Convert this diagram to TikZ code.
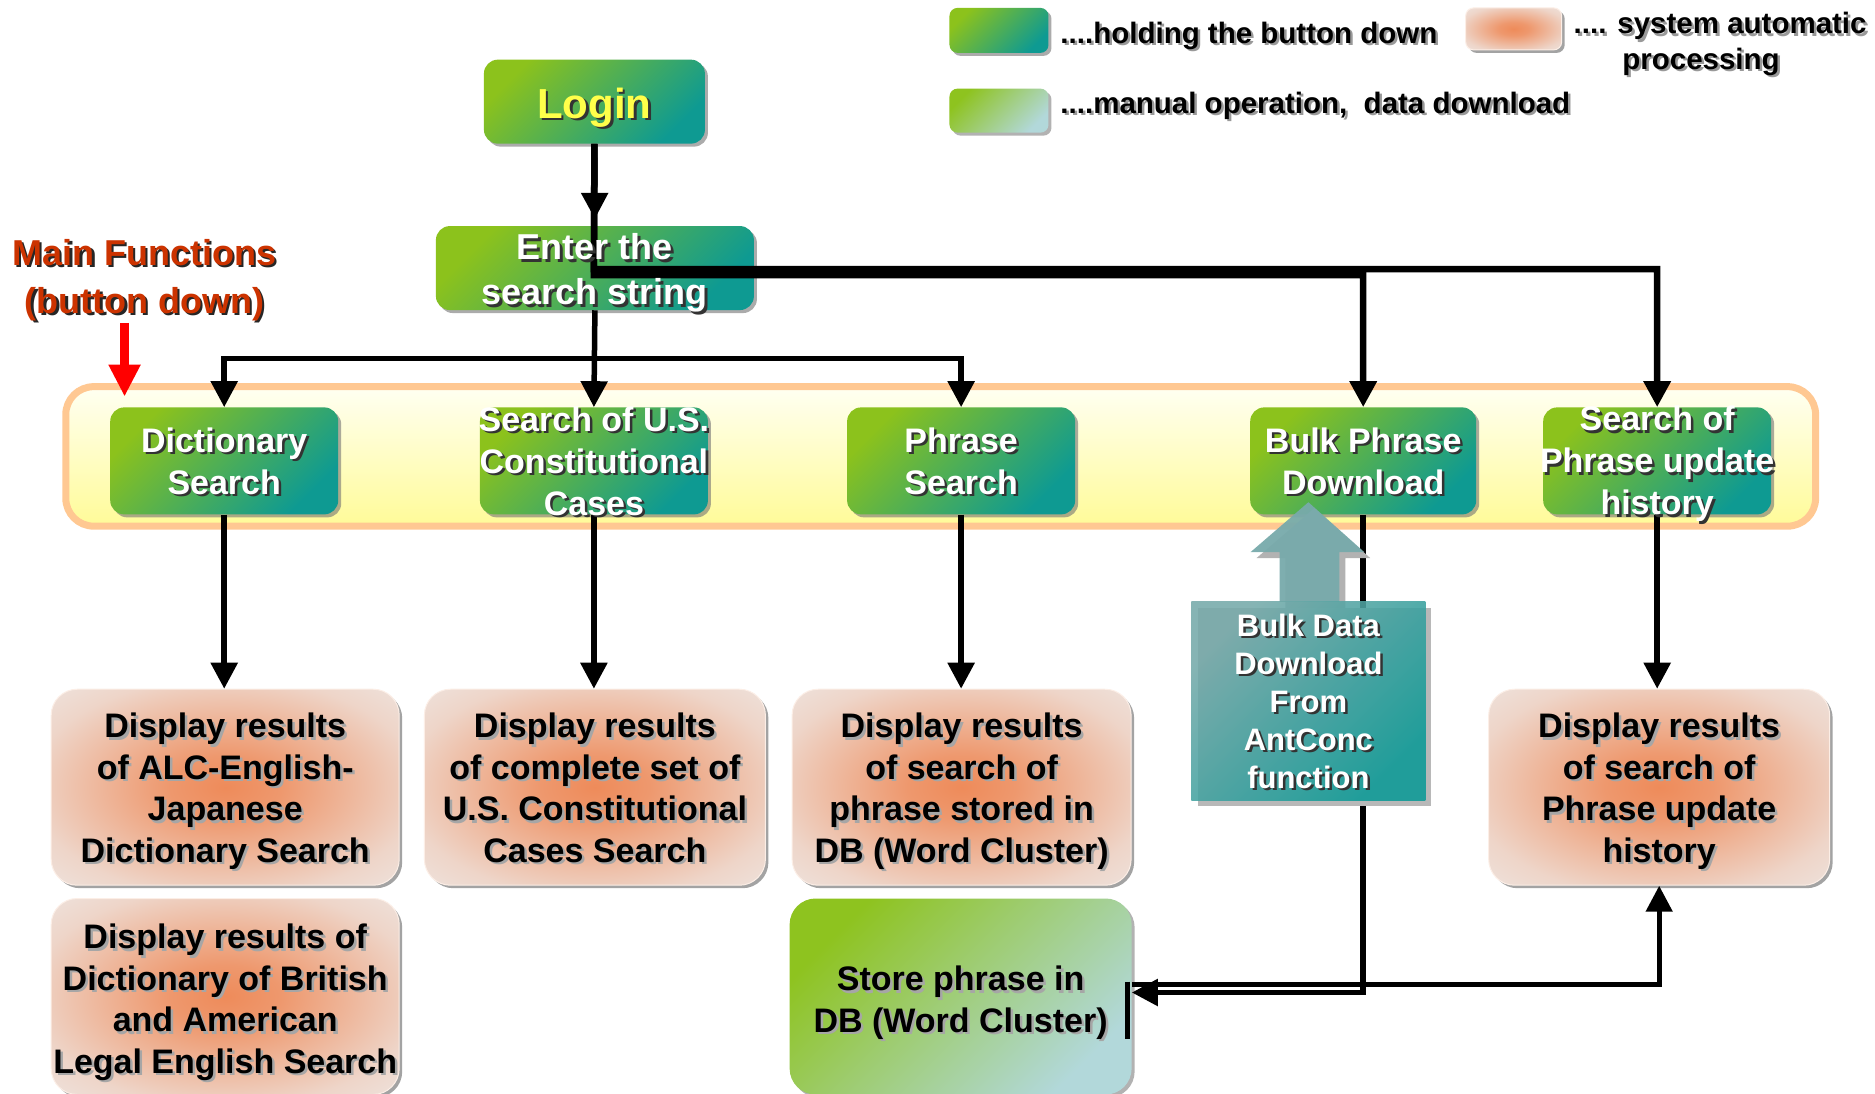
\documentclass[tikz,border=0pt]{standalone}
\usepackage{fontspec}
\setmainfont{Liberation Sans}
\usetikzlibrary{shadows,arrows.meta}
\definecolor{gA}{HTML}{8CC21C}
\definecolor{gB}{HTML}{0E9A92}
\definecolor{oC}{HTML}{EE8B5A}
\definecolor{oE}{HTML}{EEE2DC}
\definecolor{lgA}{HTML}{8EC31F}
\definecolor{lgB}{HTML}{B2D8DA}
\definecolor{tA}{HTML}{76AAAA}
\definecolor{tB}{HTML}{0B9A96}
\definecolor{tArrow}{HTML}{78AAAB}
\definecolor{bandTop}{HTML}{FFFFF2}
\definecolor{bandBot}{HTML}{FFFB98}
\definecolor{bandO}{HTML}{FFC892}
\definecolor{mfred}{HTML}{CC3300}
\definecolor{loginY}{HTML}{FFFF4A}
\pgfdeclareradialshading{glow}{\pgfpoint{0bp}{0bp}}{color(0bp)=(oC); color(8bp)=(oC!85!oE); color(18bp)=(oC!50!oE); color(28bp)=(oC!15!oE); color(36bp)=(oE); color(50bp)=(oE)}
\newcommand\fbtn{\bfseries\fontsize{34}{42}\selectfont}
\newcommand\fres{\bfseries\fontsize{34}{41.5}\selectfont}
\newcommand\fenter{\bfseries\fontsize{36}{45}\selectfont}
\newcommand\flogin{\bfseries\fontsize{42}{50}\selectfont}
\newcommand\fmf{\bfseries\fontsize{36}{48}\selectfont}
\newcommand\fbulk{\bfseries\fontsize{31}{38}\selectfont}
\newcommand\fleg{\bfseries\fontsize{29.5}{36}\selectfont}
% shadowed text: [opts]{name}{pos}{font}{colour}{shadow colour}{text}
\newcommand\shtxt[7][]{%
  \node[#1, font=#4, text=#6, align=center, inner sep=0pt] (#2s) at ([shift={(2.5pt,-2.5pt)}]#3) {#7};
  \node[#1, font=#4, text=#5, align=center, inner sep=0pt] (#2t) at (#3) {#7};}
\begin{document}
\begin{tikzpicture}[x=0.9965pt,y=-0.9965pt,
  gbox/.style={rounded corners=14pt, top color=gA, bottom color=gB, shading angle=45,
    drop shadow={shadow xshift=3pt,shadow yshift=-3pt,fill=black!55,opacity=0.6}, inner sep=0pt},
  resbox/.style={rounded corners=26pt, shading=glow, draw=white!85!oC, line width=1pt,
    drop shadow={shadow xshift=3pt,shadow yshift=-3pt,fill=black!55,opacity=0.65}, inner sep=0pt},
  manbox/.style={rounded corners=26pt, top color=lgA, bottom color=lgB, shading angle=45,
    drop shadow={shadow xshift=3pt,shadow yshift=-3pt,fill=black!50,opacity=0.6}, inner sep=0pt},
  conn/.style={line width=5.5pt, -{Triangle[width=26pt,length=26pt]}},
  plainline/.style={line width=5.5pt}
]
\useasboundingbox (0,0) rectangle (1881.6,1097.8);
\fill[white] (0,0) rectangle (1881.6,1097.8);

% band of main functions
\draw[top color=bandTop, bottom color=bandBot, draw=bandO, line width=7pt, rounded corners=28pt]
  (66,388) rectangle (1822,528);

% legend
\node[gbox, rounded corners=8pt, minimum width=99pt, minimum height=45pt] (lg1) at (1002.5,30.5) {};
\node[resbox, rounded corners=8pt, minimum width=96pt, minimum height=42pt] (lg2) at (1519,29) {};
\node[manbox, rounded corners=8pt, minimum width=99pt, minimum height=44pt] (lg3) at (1002.5,111) {};
\shtxt[anchor=west, yshift=-2pt]{lt1}{1064,34}{\fleg}{black}{black!40}{....holding the button down}
\shtxt[anchor=west, yshift=-2pt]{lt2}{1579,24}{\fleg}{black}{black!40}{.... system automatic}
\shtxt[yshift=-2pt]{lt3}{1707,60}{\fleg}{black}{black!40}{processing}
\shtxt[anchor=west, yshift=-2pt]{lt4}{1064,104}{\fleg}{black}{black!40}{....manual operation,\ \ data download}

% boxes
\node[gbox, minimum width=221pt, minimum height=84pt] (login) at (596.5,102) {};
\node[gbox, minimum width=318pt, minimum height=84pt] (enter) at (597,269) {};
\node[gbox, minimum width=228pt, minimum height=107pt] (dict) at (225,462.5) {};
\node[gbox, minimum width=228pt, minimum height=107pt] (us) at (596,462.5) {};
\node[gbox, minimum width=228pt, minimum height=107pt] (phrase) at (964.5,462.5) {};
\node[gbox, minimum width=226pt, minimum height=107pt] (bulk) at (1368,462.5) {};
\node[gbox, minimum width=228pt, minimum height=107pt] (hist) at (1663,462.5) {};

\node[resbox, minimum width=348pt, minimum height=196pt] (r1) at (226,790) {};
\node[resbox, minimum width=341pt, minimum height=196pt] (r2) at (597,790) {};
\node[resbox, minimum width=339pt, minimum height=196pt] (r3) at (965,790) {};
\node[resbox, minimum width=341pt, minimum height=196pt] (r5) at (1665,790) {};
\node[resbox, minimum width=348pt, minimum height=196pt] (r4) at (226,1000) {};
\node[manbox, minimum width=342pt, minimum height=196pt] (store) at (964,1000) {};

% connectors
\coordinate (j1) at (596,270);
\coordinate (j2) at (596,276);
\coordinate (j3) at (596,360);
\draw[conn, shorten >=7pt] (login.south) -- (enter.north);
\draw[conn, line width=6.5pt] (login.south) -- (j1) -| (hist.north);
\draw[conn, line width=6.5pt] (login.south) -- (j2) -| (bulk.north);
\draw[conn] (enter.south) -- (us.north);
\draw[conn] (j3) -| (dict.north);
\draw[conn] (j3) -| (phrase.north);
\draw[conn] (dict.south) -- (dict.south |- r1.north);
\draw[conn] (us.south) -- (us.south |- r2.north);
\draw[conn] (phrase.south) -- (phrase.south |- r3.north);
\draw[conn] (hist.south) -- (hist.south |- r5.north);
\draw[conn] (bulk.south) |- ([yshift=4pt]store.east);
\draw[conn, line width=5pt] ([yshift=12pt]store.east) -| (r5.south);
\draw[plainline, line width=5pt] ([shift={(-4pt,15pt)}]store.east) -- ([shift={(-4pt,-42pt)}]store.east);

% red arrow
\coordinate (ra1) at (125,324);
\coordinate (ra2) at (125,398);
\draw[line width=9pt, red, -{Triangle[width=30pt,length=32pt]}] (ra1) -- (ra2);

% bulk data download from AntConc
\fill[black!30] (1319,510) -- (1375,560) -- (1350,560) -- (1350,610) -- (1290,610) -- (1290,560) -- (1261,560) -- cycle;
\fill[tArrow, opacity=0.95] (1313,504) -- (1369,554) -- (1344,554) -- (1344,604) -- (1284,604) -- (1284,554) -- (1255,554) -- cycle;
\fill[black!28] (1202,610) rectangle (1436,809);
\node[top color=tA, bottom color=tB, shading angle=45, opacity=0.88, minimum width=234pt, minimum height=199pt, inner sep=0pt] (bulkdata) at (1313,703.5) {};

% texts
\shtxt[yshift=-6pt]{logint}{login.center}{\flogin}{loginY}{black!80}{Login}
\shtxt[yshift=-5pt]{entert}{enter.center}{\fenter}{white}{black!80}{Enter the\\search string}
\shtxt[yshift=-3pt]{mf}{145,278}{\fmf}{mfred}{black!85}{Main Functions\\(button down)}
\shtxt{dictt}{dict.center}{\fbtn}{white}{black!80}{Dictionary\\Search}
\shtxt{ust}{us.center}{\fbtn}{white}{black!80}{Search of U.S.\\Constitutional\\Cases}
\shtxt{phraset}{phrase.center}{\fbtn}{white}{black!80}{Phrase\\Search}
\shtxt{bulkt}{bulk.center}{\fbtn}{white}{black!80}{Bulk Phrase\\Download}
\shtxt[yshift=-3pt]{histt}{hist.center}{\fbtn}{white}{black!80}{Search of\\Phrase update\\history}
\shtxt[yshift=-4pt]{r1t}{r1.center}{\fres}{black}{black!35}{Display results\\of ALC-English-\\Japanese\\Dictionary Search}
\shtxt[yshift=-0.5pt]{r2t}{r2.center}{\fres}{black}{black!35}{Display results\\of complete set of\\U.S. Constitutional\\Cases Search}
\shtxt[yshift=-4pt]{r3t}{r3.center}{\fres}{black}{black!35}{Display results\\of search of\\phrase stored in\\DB (Word Cluster)}
\shtxt[yshift=-4pt]{r5t}{r5.center}{\fres}{black}{black!35}{Display results\\of search of\\Phrase update\\history}
\shtxt[yshift=-6pt]{r4t}{r4.center}{\fres}{black}{black!35}{Display results of\\Dictionary of British\\and American\\Legal English Search}
\shtxt[yshift=-6pt]{storet}{store.center}{\fres}{black}{black!35}{Store phrase in\\DB (Word Cluster)}
\shtxt{bdt}{bulkdata.center}{\fbulk}{white}{black!80}{Bulk Data\\Download\\From\\AntConc\\function}
\end{tikzpicture}
\end{document}
